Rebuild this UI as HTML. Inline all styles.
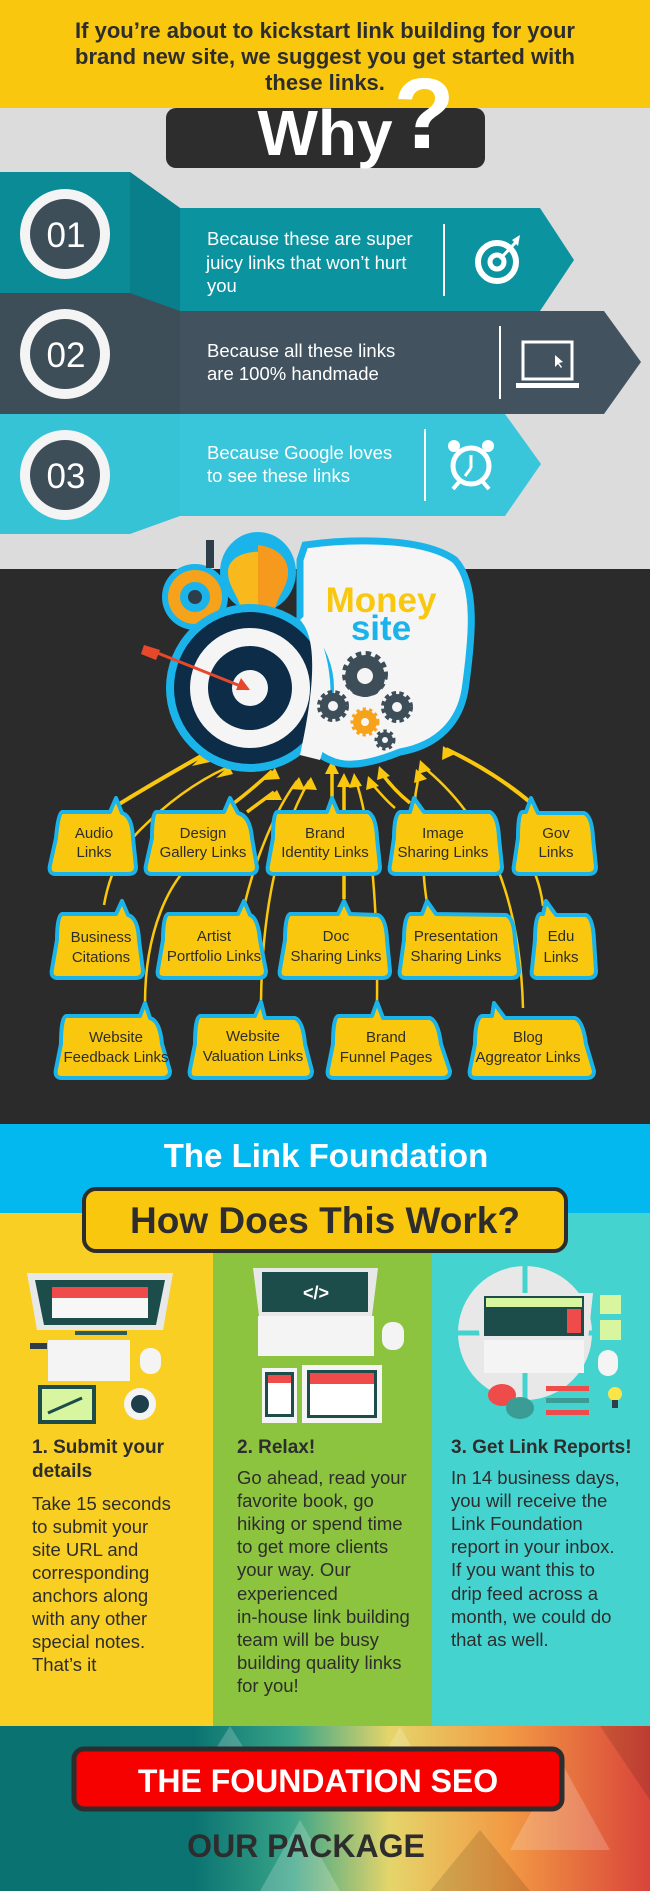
<!DOCTYPE html>
<html><head><meta charset="utf-8"><style>
html,body{margin:0;padding:0;width:650px;height:1891px;overflow:hidden}
svg{display:block}
text{font-family:"Liberation Sans",sans-serif}
</style></head><body>
<svg width="650" height="1891" viewBox="0 0 650 1891" xmlns="http://www.w3.org/2000/svg">
<defs>
<linearGradient id="bot" x1="0" y1="0" x2="1" y2="0">
<stop offset="0" stop-color="#0a7270"/><stop offset="0.3" stop-color="#0b7472"/><stop offset="0.45" stop-color="#3aa589"/><stop offset="0.6" stop-color="#e5d56a"/><stop offset="0.78" stop-color="#f29a44"/><stop offset="1" stop-color="#d9443a"/>
</linearGradient>
</defs>
<!-- header -->
<rect x="0" y="0" width="650" height="108" fill="#f9c80e"/>
<g font-weight="bold" font-size="22" fill="#2d2d2d" text-anchor="middle">
<text x="325" y="38">If you’re about to kickstart link building for your</text>
<text x="325" y="64">brand new site, we suggest you get started with</text>
<text x="325" y="90">these links.</text>
</g>
<rect x="0" y="108" width="650" height="461" fill="#dcdcdc"/>
<rect x="166" y="108" width="319" height="60" rx="10" fill="#2d2d2d"/>
<text x="325" y="155" text-anchor="middle" font-weight="bold" font-size="64" fill="#fff">Why</text>
<text x="424" y="148" text-anchor="middle" font-weight="bold" font-size="100" fill="#fff">?</text>

<!-- band 1 -->
<polygon points="0,172 130,172 180,208 180,311 0,293" fill="#0b8b96"/>
<polygon points="130,172 180,208 180,311 130,293" fill="#087f8a"/>
<polygon points="180,208 540,208 574,260 540,311 180,311" fill="#0c93a0"/>
<!-- band 2 -->
<polygon points="0,293 130,293 180,311 180,414 0,414" fill="#3d4e59"/>
<polygon points="180,311 604,311 641,362 604,414 180,414" fill="#42535f"/>
<!-- band 3 -->
<polygon points="0,414 180,414 180,516 130,534 0,534" fill="#37c3d6"/>
<polygon points="180,414 505,414 541,464 505,516 180,516" fill="#3ac6da"/>

<circle cx="65" cy="234" r="45" fill="#f4f4f4"/><circle cx="65" cy="234" r="35" fill="#3d4e59"/>
<circle cx="65" cy="354" r="45" fill="#f4f4f4"/><circle cx="65" cy="354" r="35" fill="#3d4e59"/>
<circle cx="65" cy="475" r="45" fill="#f4f4f4"/><circle cx="65" cy="475" r="35" fill="#3d4e59"/>
<g font-size="35" fill="#fff" text-anchor="middle"><text x="66" y="247">01</text><text x="66" y="367">02</text><text x="66" y="488">03</text></g>

<g font-size="18.5" fill="#fff">
<text x="207" y="245">Because these are super</text>
<text x="206" y="269">juicy links that won’t hurt</text>
<text x="207" y="292">you</text>
<text x="207" y="357">Because all these links</text>
<text x="207" y="380">are 100% handmade</text>
<text x="207" y="459">Because Google loves</text>
<text x="207" y="482">to see these links</text>
</g>
<line x1="444" y1="224" x2="444" y2="296" stroke="#fff" stroke-width="2"/>
<line x1="500" y1="326" x2="500" y2="399" stroke="#fff" stroke-width="2"/>
<line x1="425" y1="429" x2="425" y2="501" stroke="#fff" stroke-width="2"/>
<!-- target icon -->
<circle cx="497" cy="262" r="19" fill="none" stroke="#fff" stroke-width="6"/>
<circle cx="497" cy="262" r="7" fill="none" stroke="#fff" stroke-width="5"/>
<line x1="500" y1="259" x2="516" y2="242" stroke="#fff" stroke-width="3"/>
<polygon points="512,240 520,235 518,246" fill="#fff"/>
<!-- laptop icon -->
<rect x="523" y="342" width="49" height="37" fill="none" stroke="#fff" stroke-width="3"/>
<rect x="516" y="383" width="63" height="5" fill="#fff"/>
<polygon points="555,355 555,367 558,364 561,368 562,367 559,363 563,362" fill="#fff"/>
<!-- clock -->
<circle cx="471" cy="466" r="18" fill="none" stroke="#fff" stroke-width="5"/>
<circle cx="454" cy="446" r="6" fill="#fff"/><circle cx="488" cy="446" r="6" fill="#fff"/>
<line x1="471" y1="455" x2="471" y2="468" stroke="#fff" stroke-width="3"/>
<line x1="471" y1="468" x2="465" y2="476" stroke="#fff" stroke-width="3"/>
<line x1="459" y1="482" x2="453" y2="489" stroke="#fff" stroke-width="4"/>
<line x1="483" y1="482" x2="489" y2="489" stroke="#fff" stroke-width="4"/>

<!-- dark section -->
<rect x="0" y="569" width="650" height="555" fill="#2b2b2b"/>

<!-- connector lines (behind bubbles) -->
<g fill="none" stroke="#f9c80e" stroke-width="2.5">
<path d="M116,806 C150,785 180,768 203,755" stroke-width="4"/>
<path d="M104,905 C110,870 125,845 140,830 C170,800 200,780 226,768"/>
<path d="M145,1003 C145,930 170,880 195,860"/>
<path d="M230,806 C245,795 260,782 272,771" stroke-width="3.5"/>
<path d="M247,812 L274,792" stroke-width="3.5"/>
<path d="M245,903 C255,860 275,810 297,781"/>
<path d="M261,1001 C262,920 275,840 309,781"/>
<path d="M332,797 L332,765" stroke-width="3.5"/>
<path d="M344,899 L344,778" stroke-width="3.5"/>
<path d="M377,1001 C378,900 370,820 355,778"/>
<path d="M410,803 C400,795 390,785 380,771" stroke-width="3.5"/>
<path d="M395,808 C385,800 378,790 369,781"/>
<path d="M427,903 C420,860 425,830 417,805 C412,795 420,785 417,774"/>
<path d="M523,1008 C520,900 490,820 421,765"/>
<path d="M531,803 C510,785 480,765 446,749" stroke-width="4"/>
<path d="M543,906 C540,880 530,860 520,845"/>
</g>
<g fill="#f9c80e">
<polygon points="206,752 192,766 210,762"/>
<polygon points="229,766 216,778 233,774"/>
<polygon points="275,768 264,780 280,779"/>
<polygon points="277,790 266,800 282,800"/>
<polygon points="299,777 290,789 305,790"/>
<polygon points="311,777 302,789 317,790"/>
<polygon points="332,760 325,774 339,774"/>
<polygon points="344,773 337,787 351,787"/>
<polygon points="354,773 349,788 362,786"/>
<polygon points="368,776 366,790 379,786"/>
<polygon points="379,766 377,780 390,776"/>
<polygon points="416,769 414,783 427,779"/>
<polygon points="420,760 418,774 431,770"/>
<polygon points="443,746 442,760 455,754"/>
</g>

<!-- head -->
<path d="M305,545 C340,540 420,535 455,560 C478,585 472,640 465,690 C460,720 440,745 400,752 C380,760 350,770 330,760 C310,752 305,735 300,720 L300,560 Z" fill="#f5f5f5" stroke="#1ab4ea" stroke-width="7"/>
<circle cx="195" cy="597" r="33" fill="#1ab4ea"/>
<circle cx="195" cy="597" r="27" fill="#f7a21b"/><circle cx="195" cy="597" r="15" fill="#1ab4ea"/><circle cx="195" cy="597" r="7" fill="#2d3e4a"/>
<rect x="206" y="540" width="8" height="28" fill="#2d3e4a"/>
<ellipse cx="258" cy="572" rx="38" ry="40" fill="#1ab4ea"/>
<path d="M228,572 C228,545 288,545 288,572 C288,588 275,598 275,612 L241,612 C241,598 228,588 228,572 Z" fill="#f9b81c"/>
<path d="M258,545 C280,548 288,560 288,572 C288,588 275,598 275,612 L258,612 Z" fill="#f59a1d"/>
<rect x="240" y="612" width="36" height="22" fill="#4c5d68"/><rect x="240" y="612" width="36" height="8" fill="#bbb"/>
<circle cx="250" cy="688" r="84" fill="#1ab4ea"/>
<circle cx="250" cy="688" r="76" fill="#0d2c48"/>
<circle cx="250" cy="688" r="60" fill="#f5f5f5"/>
<circle cx="250" cy="688" r="42" fill="#0d2c48"/>
<circle cx="250" cy="688" r="18" fill="#f5f5f5"/>
<path d="M300,620 C320,640 312,700 300,755 L320,760 C340,700 330,640 305,615 Z" fill="#f5f5f5"/>
<line x1="150" y1="650" x2="248" y2="689" stroke="#e8482a" stroke-width="3"/>
<polygon points="250,690 236,690 241,678" fill="#e8482a"/>
<polygon points="144,645 160,650 156,660 141,654" fill="#e8482a"/>
<text x="381" y="612" text-anchor="middle" font-weight="bold" font-size="35" fill="#f9c80e">Money</text>
<text x="381" y="640" text-anchor="middle" font-weight="bold" font-size="35" fill="#1ab4ea">site</text>
<g fill="#3d4e59">
<circle cx="365" cy="674" r="19" stroke="#3d4e59" stroke-width="8" stroke-dasharray="5 4"/>
<circle cx="333" cy="706" r="13" stroke="#3d4e59" stroke-width="6" stroke-dasharray="4 3"/>
<circle cx="397" cy="707" r="13" stroke="#3d4e59" stroke-width="6" stroke-dasharray="4 3"/>
<circle cx="385" cy="740" r="8" stroke="#3d4e59" stroke-width="5" stroke-dasharray="3 3"/>
</g>
<circle cx="365" cy="677" r="20" fill="#3d4e59"/><circle cx="365" cy="676" r="8" fill="#f5f5f5"/>
<circle cx="333" cy="706" r="5" fill="#f5f5f5"/><circle cx="397" cy="707" r="5" fill="#f5f5f5"/><circle cx="385" cy="740" r="3" fill="#f5f5f5"/>
<circle cx="365" cy="722" r="12" fill="#f7a21b" stroke="#f7a21b" stroke-width="5" stroke-dasharray="3 3"/><circle cx="365" cy="722" r="4" fill="#f5f5f5"/>

<!-- bubbles -->
<g fill="#f9c80e" stroke="#1ab4ea" stroke-width="4" stroke-linejoin="round">
<!-- row1 810-874 -->
<path d="M62,812 L110,812 L116,798 L122,813 Q132,816 133,838 L136,867 Q136,874 128,874 L56,874 Q48,874 50,865 L56,838 Q58,814 62,812 Z"/>
<path d="M156,812 L224,812 L230,798 L238,813 Q250,816 252,838 L257,867 Q257,874 249,874 L152,874 Q144,874 146,865 L152,838 Q152,814 156,812 Z"/>
<path d="M277,812 L327,812 L332,798 L338,812 L368,812 Q376,816 377,838 L380,867 Q380,874 372,874 L274,874 Q266,874 268,865 L273,838 Q273,814 277,812 Z"/>
<path d="M400,812 L410,812 L414,798 L424,812 L490,812 Q498,816 499,838 L502,867 Q502,874 494,874 L396,874 Q388,874 390,865 L394,838 Q394,814 400,812 Z"/>
<path d="M522,812 L526,812 L531,798 L538,813 L584,813 Q592,816 593,838 L596,867 Q596,874 588,874 L520,874 Q512,874 514,865 L518,838 Q518,814 522,812 Z"/>
<!-- row2 912-978 -->
<path d="M62,914 L116,914 L122,901 L128,915 Q138,918 139,940 L143,971 Q143,978 135,978 L58,978 Q50,978 52,969 L57,940 Q57,916 62,914 Z"/>
<path d="M168,914 L238,914 L244,901 L250,915 Q258,918 260,940 L266,971 Q266,978 258,978 L164,978 Q156,978 158,969 L163,940 Q163,916 168,914 Z"/>
<path d="M290,914 L338,914 L344,901 L350,914 L378,915 Q386,918 387,940 L390,971 Q390,978 382,978 L286,978 Q278,978 280,969 L285,940 Q285,916 290,914 Z"/>
<path d="M410,914 L422,914 L427,901 L436,914 L506,915 Q514,918 515,940 L519,971 Q519,978 511,978 L406,978 Q398,978 400,969 L404,940 Q404,916 410,914 Z"/>
<path d="M540,914 L543,914 L546,901 L556,915 L586,915 Q593,918 594,940 L596,971 Q596,978 588,978 L538,978 Q530,978 532,969 L535,940 Q535,916 540,914 Z"/>
<!-- row3 1014-1078 -->
<path d="M66,1016 L140,1016 L145,1003 L150,1018 Q160,1021 162,1044 L170,1071 Q170,1078 162,1078 L62,1078 Q54,1078 56,1069 L61,1044 Q61,1018 66,1016 Z"/>
<path d="M200,1016 L255,1016 L261,1002 L265,1018 L295,1018 Q303,1021 305,1044 L312,1071 Q312,1078 304,1078 L196,1078 Q188,1078 190,1069 L195,1044 Q195,1018 200,1016 Z"/>
<path d="M338,1016 L372,1016 L377,1002 L383,1018 L430,1018 Q438,1021 441,1044 L450,1071 Q450,1078 442,1078 L334,1078 Q326,1078 328,1069 L333,1044 Q333,1018 338,1016 Z"/>
<path d="M482,1016 L492,1016 L494,1003 L505,1018 L575,1018 Q583,1021 586,1044 L594,1071 Q594,1078 586,1078 L476,1078 Q468,1078 470,1069 L475,1044 Q475,1018 482,1016 Z"/>
</g>
<g font-size="15" fill="#2d2d2d" text-anchor="middle">
<text x="94" y="838">Audio</text><text x="94" y="857">Links</text>
<text x="203" y="838">Design</text><text x="203" y="857">Gallery Links</text>
<text x="325" y="838">Brand</text><text x="325" y="857">Identity Links</text>
<text x="443" y="838">Image</text><text x="443" y="857">Sharing Links</text>
<text x="556" y="838">Gov</text><text x="556" y="857">Links</text>
<text x="101" y="942">Business</text><text x="101" y="962">Citations</text>
<text x="214" y="941">Artist</text><text x="214" y="961">Portfolio Links</text>
<text x="336" y="941">Doc</text><text x="336" y="961">Sharing Links</text>
<text x="456" y="941">Presentation</text><text x="456" y="961">Sharing Links</text>
<text x="561" y="941">Edu</text><text x="561" y="962">Links</text>
<text x="116" y="1042">Website</text><text x="116" y="1062">Feedback Links</text>
<text x="253" y="1041">Website</text><text x="253" y="1061">Valuation Links</text>
<text x="386" y="1042">Brand</text><text x="386" y="1062">Funnel Pages</text>
<text x="528" y="1042">Blog</text><text x="528" y="1062">Aggreator Links</text>
</g>

<!-- link foundation -->
<rect x="0" y="1124" width="650" height="90" fill="#03b7ef"/>
<text x="326" y="1167" text-anchor="middle" font-weight="bold" font-size="33" fill="#fff">The Link Foundation</text>
<rect x="0" y="1213" width="214" height="513" fill="#f9cf24"/>
<rect x="213" y="1213" width="219" height="513" fill="#8cc33f"/>
<rect x="432" y="1213" width="218" height="513" fill="#45d3cf"/>
<rect x="84" y="1189" width="482" height="62" rx="12" fill="#f9c80e" stroke="#2d2d2d" stroke-width="4"/>
<text x="325" y="1233" text-anchor="middle" font-weight="bold" font-size="37" fill="#2d2d2d">How Does This Work?</text>

<!-- col1 illustration -->
<polygon points="27,1273 173,1273 163,1330 37,1330" fill="#e8e8e8"/>
<polygon points="35,1280 165,1280 156,1325 44,1325" fill="#1d4d4b"/>
<rect x="52" y="1287" width="96" height="31" fill="#f7f7f7"/><rect x="52" y="1287" width="96" height="11" fill="#ef4b4b"/>
<rect x="75" y="1331" width="52" height="4" fill="#2c5b59"/>
<rect x="48" y="1340" width="82" height="41" fill="#f4f4f4"/>
<rect x="30" y="1343" width="17" height="6" fill="#2d3e4a"/>
<rect x="140" y="1348" width="21" height="26" rx="10" fill="#f4f4f4"/>
<rect x="38" y="1385" width="58" height="39" fill="#1d4d4b"/><rect x="42" y="1389" width="50" height="31" fill="#d8f5a0"/>
<line x1="48" y1="1413" x2="82" y2="1398" stroke="#1d4d4b" stroke-width="3"/>
<circle cx="140" cy="1404" r="16" fill="#f4f4f4"/><circle cx="140" cy="1404" r="9" fill="#1d3e4a"/>
<!-- col2 illustration -->
<polygon points="253,1268 378,1268 372,1316 259,1316" fill="#e8e8e8"/>
<rect x="262" y="1272" width="106" height="40" fill="#1d4d4b"/>
<text x="316" y="1299" text-anchor="middle" font-weight="bold" font-size="18" fill="#fff">&lt;/&gt;</text>
<rect x="258" y="1316" width="116" height="40" fill="#f4f4f4"/>
<rect x="382" y="1322" width="22" height="28" rx="10" fill="#f4f4f4"/>
<rect x="262" y="1368" width="35" height="55" fill="#f4f4f4"/><rect x="265" y="1372" width="29" height="45" fill="#1d4d4b"/><rect x="268" y="1375" width="23" height="39" fill="#fff"/><rect x="268" y="1375" width="23" height="8" fill="#ef4b4b"/>
<rect x="302" y="1365" width="80" height="58" fill="#f4f4f4"/><rect x="307" y="1370" width="70" height="48" fill="#1d4d4b"/><rect x="310" y="1373" width="64" height="42" fill="#fff"/><rect x="310" y="1373" width="64" height="11" fill="#ef4b4b"/>
<!-- col3 illustration -->
<circle cx="525" cy="1333" r="67" fill="#e8e8e8"/>
<path d="M458,1333 H592 M525,1266 V1400" stroke="#45d3cf" stroke-width="5"/>
<polygon points="475,1293 593,1293 588,1340 480,1340" fill="#e8e8e8"/>
<rect x="484" y="1296" width="100" height="40" fill="#1d4d4b"/><rect x="486" y="1298" width="96" height="9" fill="#d8f5a0"/><rect x="567" y="1309" width="14" height="24" fill="#ef4b4b"/>
<rect x="484" y="1340" width="100" height="33" fill="#f4f4f4"/>
<rect x="600" y="1295" width="21" height="19" fill="#d8f5a0"/><rect x="600" y="1320" width="21" height="20" fill="#d8f5a0"/>
<rect x="598" y="1350" width="20" height="26" rx="10" fill="#f4f4f4"/>
<ellipse cx="502" cy="1395" rx="14" ry="11" fill="#ef4b4b"/><ellipse cx="520" cy="1408" rx="14" ry="11" fill="#3b9b95"/>
<rect x="546" y="1386" width="43" height="5" fill="#ef4b4b"/><rect x="546" y="1398" width="43" height="5" fill="#3b9b95"/><rect x="546" y="1410" width="43" height="5" fill="#ef4b4b"/>
<circle cx="615" cy="1394" r="7" fill="#f9e44a"/><rect x="612" y="1400" width="6" height="8" fill="#2d3e4a"/>

<g font-weight="bold" font-size="19" fill="#2d2d2d">
<text x="32" y="1453">1. Submit your</text><text x="32" y="1477">details</text>
<text x="237" y="1453">2. Relax!</text>
<text x="451" y="1453">3. Get Link Reports!</text>
</g>
<g font-size="18.5" fill="#2d2d2d">
<text x="32" y="1510">Take 15 seconds</text><text x="32" y="1533">to submit your</text><text x="32" y="1556">site URL and</text><text x="32" y="1579">corresponding</text><text x="32" y="1602">anchors along</text><text x="32" y="1625">with any other</text><text x="32" y="1648">special notes.</text><text x="32" y="1671">That’s it</text>
<text x="237" y="1484">Go ahead, read your</text><text x="237" y="1507">favorite book, go</text><text x="237" y="1530">hiking or spend time</text><text x="237" y="1553">to get more clients</text><text x="237" y="1576">your way. Our</text><text x="237" y="1600">experienced</text><text x="237" y="1623">in-house link building</text><text x="237" y="1646">team will be busy</text><text x="237" y="1669">building quality links</text><text x="237" y="1692">for you!</text>
<text x="451" y="1484">In 14 business days,</text><text x="451" y="1507">you will receive the</text><text x="451" y="1530">Link Foundation</text><text x="451" y="1553">report in your inbox.</text><text x="451" y="1576">If you want this to</text><text x="451" y="1600">drip feed across a</text><text x="451" y="1623">month, we could do</text><text x="451" y="1646">that as well.</text>
</g>

<!-- bottom -->
<rect x="0" y="1726" width="650" height="165" fill="url(#bot)"/>
<g opacity="0.2" fill="#fff">
<polygon points="230,1726 270,1790 190,1790"/><polygon points="400,1726 440,1800 360,1800"/><polygon points="560,1760 610,1850 510,1850"/><polygon points="300,1820 340,1891 260,1891"/>
</g>
<g opacity="0.12" fill="#000">
<polygon points="600,1726 650,1800 650,1726"/><polygon points="480,1830 530,1891 430,1891"/>
</g>
<rect x="74" y="1749" width="488" height="60" rx="10" fill="#f60000" stroke="#2d2d2d" stroke-width="5"/>
<text x="318" y="1792" text-anchor="middle" font-weight="bold" font-size="32" fill="#fff">THE FOUNDATION SEO</text>
<text x="306" y="1857" text-anchor="middle" font-weight="bold" font-size="32" fill="#2d2d2d">OUR PACKAGE</text>
</svg>
</body></html>
